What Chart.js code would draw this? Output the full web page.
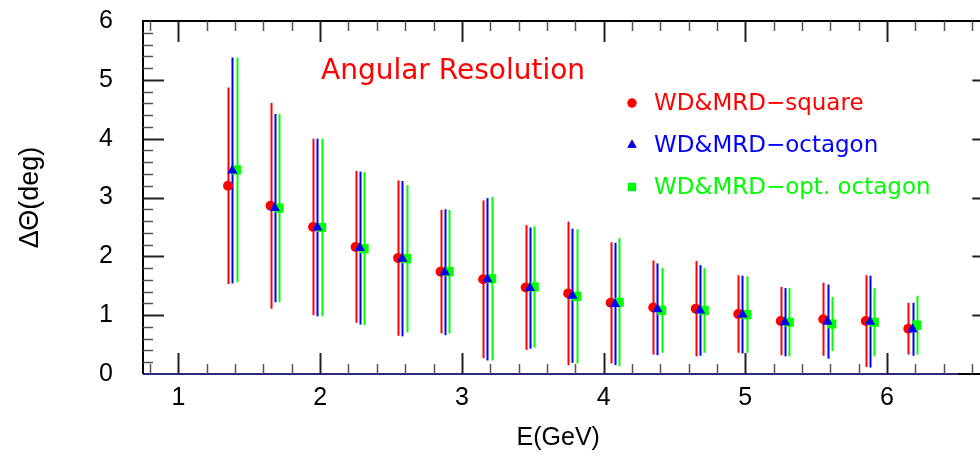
<!DOCTYPE html>
<html>
<head>
<meta charset="utf-8">
<title>Angular Resolution</title>
<script src="https://cdn.jsdelivr.net/npm/chart.js@4.4.1/dist/chart.umd.min.js"></script>
<style>
    html, body { margin: 0; padding: 0; background: #fff; }
    #wrap { width: 980px; height: 458px; }
</style>
</head>
<body>
<div id="wrap"><canvas id="chart" width="980" height="458"></canvas></div>
<script>
// values
const xTickLabels = [1, 2, 3, 4, 5, 6];
const yTickLabels = [0, 1, 2, 3, 4, 5, 6];

const seriesNames = ['WD&MRD\u2212square', 'WD&MRD\u2212octagon', 'WD&MRD\u2212opt. octagon'];

const xSquare = [1.35, 1.65, 1.95, 2.25, 2.55, 2.85, 3.15, 3.45, 3.75, 4.05, 4.35, 4.65, 4.95, 5.25, 5.55, 5.85, 6.15];
const ySquare = [3.20, 2.86, 2.50, 2.16, 1.97, 1.74, 1.61, 1.47, 1.37, 1.21, 1.13, 1.11, 1.02, 0.90, 0.93, 0.90, 0.77];
const errSquare = [1.67, 1.75, 1.50, 1.29, 1.32, 1.05, 1.34, 1.06, 1.22, 1.03, 0.80, 0.81, 0.66, 0.58, 0.62, 0.78, 0.44];

const xOctagon = [1.38, 1.68, 1.98, 2.28, 2.58, 2.88, 3.18, 3.48, 3.78, 4.08, 4.38, 4.68, 4.98, 5.28, 5.58, 5.88, 6.18];
const yOctagon = [3.46, 2.82, 2.49, 2.14, 1.96, 1.73, 1.61, 1.46, 1.33, 1.19, 1.10, 1.08, 1.01, 0.88, 0.89, 0.89, 0.76];
const errOctagon = [1.92, 1.60, 1.51, 1.30, 1.32, 1.07, 1.38, 1.03, 1.14, 1.04, 0.78, 0.77, 0.66, 0.58, 0.63, 0.78, 0.45];

const xOpt = [1.41, 1.71, 2.01, 2.31, 2.61, 2.91, 3.21, 3.51, 3.81, 4.11, 4.41, 4.71, 5.01, 5.31, 5.61, 5.91, 6.21];
const yOpt = [3.47, 2.82, 2.49, 2.13, 1.96, 1.74, 1.62, 1.48, 1.32, 1.22, 1.08, 1.08, 1.01, 0.88, 0.85, 0.88, 0.83];
const errOpt = [1.91, 1.60, 1.51, 1.30, 1.25, 1.05, 1.39, 1.03, 1.14, 1.09, 0.72, 0.72, 0.65, 0.58, 0.46, 0.58, 0.50];

const RED = '#ff0000';
const BLUE = '#0000ff';
const GREEN = '#00ff00';

function toPoints(xs, ys) {
    return xs.map((x, i) => ({ x: x, y: ys[i] }));
}

const errors = [errSquare, errOctagon, errOpt];

// vertical error bars, drawn under the markers
const errorBars = {
    id: 'errorBars',
    beforeDatasetsDraw(chart) {
        const ctx = chart.ctx;
        const xs = chart.scales.x;
        const ys = chart.scales.y;
        ctx.save();
        ctx.lineWidth = 2;
        chart.data.datasets.forEach((ds, d) => {
            ctx.strokeStyle = ds.borderColor;
            ds.data.forEach((p, i) => {
                const px = Math.round(xs.getPixelForValue(p.x)) + 0.5;
                ctx.beginPath();
                ctx.moveTo(px, ys.getPixelForValue(p.y - errors[d][i]));
                ctx.lineTo(px, ys.getPixelForValue(p.y + errors[d][i]));
                ctx.stroke();
            });
        });
        ctx.restore();
    }
};

// frame with inside ticks, title and legend
const frame = {
    id: 'frame',
    afterDraw(chart) {
        const ctx = chart.ctx;
        const xs = chart.scales.x;
        const ys = chart.scales.y;
        const a = chart.chartArea;
        // the right-hand axis sits just past the canvas edge
        const rightX = xs.getPixelForValue(6.75);
        ctx.save();

        // zero line
        ctx.strokeStyle = '#2a2a7a';
        ctx.lineWidth = 2;
        ctx.beginPath();
        ctx.moveTo(a.left, a.bottom);
        ctx.lineTo(xs.getPixelForValue(6.5), a.bottom);
        ctx.stroke();

        ctx.strokeStyle = '#000';
        ctx.lineWidth = 2;
        ctx.beginPath();
        ctx.moveTo(a.left, a.bottom);
        ctx.lineTo(a.left, a.top);
        ctx.lineTo(980, a.top);
        ctx.moveTo(xs.getPixelForValue(6.5), a.bottom);
        ctx.lineTo(980, a.bottom);
        ctx.stroke();

        // x ticks every 0.2
        for (let k = 4; k <= 33; k++) {
            const v = k / 5;
            const px = Math.round(xs.getPixelForValue(v)) + 0.5;
            const major = k % 5 === 0;
            const len = major ? 21 : 10;
            ctx.strokeStyle = major ? '#222' : '#555';
            ctx.lineWidth = major ? 2 : 1.5;
            ctx.beginPath();
            ctx.moveTo(px, a.bottom);
            ctx.lineTo(px, a.bottom - len);
            ctx.moveTo(px, a.top);
            ctx.lineTo(px, a.top + len);
            ctx.stroke();
        }
        // y ticks every 0.2
        for (let k = 1; k < 30; k++) {
            const v = k / 5;
            const py = Math.round(ys.getPixelForValue(v)) + 0.5;
            const major = k % 5 === 0;
            const len = major ? 21 : 10;
            ctx.strokeStyle = major ? '#222' : '#555';
            ctx.lineWidth = major ? 2 : 1.5;
            ctx.beginPath();
            ctx.moveTo(a.left, py);
            ctx.lineTo(a.left + len, py);
            ctx.moveTo(rightX, py);
            ctx.lineTo(rightX - len, py);
            ctx.stroke();
        }

        // title
        ctx.fillStyle = RED;
        ctx.font = '28px "DejaVu Sans"';
        ctx.textBaseline = 'alphabetic';
        ctx.textAlign = 'left';
        ctx.fillText('Angular Resolution', 321, 79);

        // legend
        const rows = [103, 145, 187];
        const styles = ['circle', 'triangle', 'rect'];
        const sizes = [5, 6, 6.5];
        chart.data.datasets.forEach((ds, d) => {
            Chart.helpers.drawPoint(ctx, {
                pointStyle: styles[d],
                radius: sizes[d] * 0.9,
                rotation: 0,
                borderWidth: 0
            }, 632, rows[d]);
            ctx.fillStyle = ds.backgroundColor;
            ctx.fill();
            ctx.font = '23px "DejaVu Sans"';
            ctx.textBaseline = 'middle';
            ctx.fillText(seriesNames[d], 654, rows[d] + 1);
        });
        ctx.restore();
    }
};

new Chart(document.getElementById('chart'), {
    type: 'scatter',
    data: {
        datasets: [
            {
                label: seriesNames[0],
                data: toPoints(xSquare, ySquare),
                backgroundColor: RED,
                borderColor: RED,
                pointStyle: 'circle',
                pointRadius: 5,
                borderWidth: 0,
                order: 2
            },
            {
                label: seriesNames[1],
                data: toPoints(xOctagon, yOctagon),
                backgroundColor: BLUE,
                borderColor: BLUE,
                pointStyle: 'triangle',
                pointRadius: 6,
                borderWidth: 0,
                order: 0
            },
            {
                label: seriesNames[2],
                data: toPoints(xOpt, yOpt),
                backgroundColor: GREEN,
                borderColor: GREEN,
                pointStyle: 'rect',
                pointRadius: 6.5,
                borderWidth: 0,
                order: 1
            }
        ]
    },
    options: {
        responsive: false,
        animation: false,
        devicePixelRatio: 1,
        layout: { padding: { top: 21, left: 0, right: 0, bottom: 0 } },
        plugins: {
            legend: { display: false },
            tooltip: { enabled: false }
        },
        scales: {
            x: {
                type: 'linear',
                min: 0.75,
                max: 6.61,
                grid: { display: false, drawTicks: false },
                border: { display: false },
                afterBuildTicks: scale => { scale.ticks = xTickLabels.map(v => ({ value: v })); },
                afterFit: scale => {
                    scale.height = 84;
                    scale.paddingLeft = 0;
                    scale.paddingRight = 0;
                },
                ticks: {
                    padding: 9,
                    color: '#000',
                    font: { family: '"Liberation Sans"', size: 25 }
                },
                title: {
                    display: true,
                    text: 'E(GeV)',
                    color: '#000',
                    font: { family: '"Liberation Sans"', size: 25 },
                    padding: { top: 0, bottom: 5 }
                }
            },
            y: {
                min: 0,
                max: 6,
                grid: { display: false, drawTicks: false },
                border: { display: false },
                afterBuildTicks: scale => { scale.ticks = yTickLabels.map(v => ({ value: v })); },
                afterFit: scale => {
                    scale.width = 143;
                    scale.paddingTop = 0;
                    scale.paddingBottom = 0;
                },
                ticks: {
                    padding: 30,
                    color: '#000',
                    font: { family: '"Liberation Sans"', size: 25 }
                },
                title: {
                    display: true,
                    text: '\u0394\u0398(deg)',
                    color: '#000',
                    font: { family: '"Liberation Sans"', size: 27 },
                    padding: { top: 14, bottom: 0 }
                }
            }
        }
    },
    plugins: [errorBars, frame]
});
</script>
</body>
</html>
